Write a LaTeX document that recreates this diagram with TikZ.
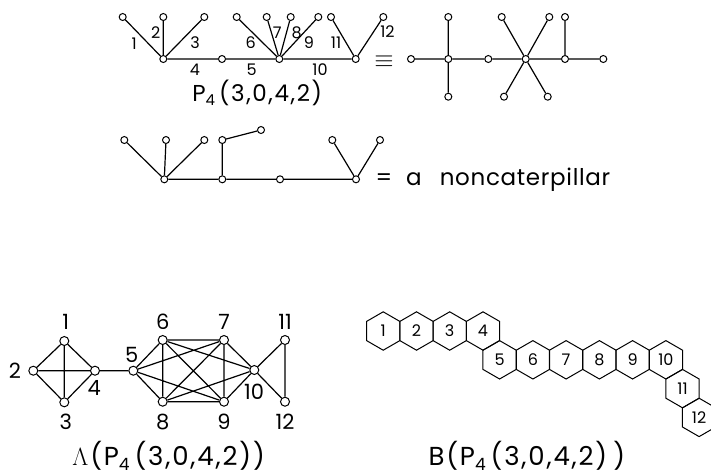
\documentclass[tikz,border=0pt]{standalone}
\usepackage{fontspec}
\setmainfont{Poppins}
\newfontfamily\widefont[LetterSpace=7]{Poppins}
\newfontfamily\midfont[LetterSpace=3]{Poppins}
\usetikzlibrary{shapes.geometric}
\newcommand{\fsz}[1]{\fontsize{#1}{#1}\selectfont}
\newcommand{\Pfour}[2]{P\raisebox{-#2}{\fsz{#1}4}}
\begin{document}
\begin{tikzpicture}[x=1pt,y=-1pt,line width=1.2pt,
  vtx/.style={circle,draw,fill=white,inner sep=0pt,minimum size=7pt,line width=1pt},
  lvtx/.style={vtx,minimum size=9pt},
  elab/.style={inner sep=0pt,font=\fsz{16}},
  llab/.style={inner sep=0pt,font=\fsz{21}},
  hexa/.style={regular polygon,regular polygon sides=6,shape border rotate=30,
    draw,inner sep=0pt,minimum size=38.4pt,line width=1pt,font=\fsz{16}},
  ttl/.style={inner sep=0pt,anchor=base west}]
\useasboundingbox (0,0) rectangle (711,475);

% ---------- tree P4(3,0,4,2) with numbered edges ----------
\node[vtx] (a) at (163.3,59) {};
\node[vtx] (a1) at (122.7,17) {};
\node[vtx] (a2) at (163.3,17) {};
\node[vtx] (a3) at (204.3,17) {};
\node[vtx] (b) at (222,59) {};
\node[vtx] (c) at (279.3,59) {};
\node[vtx] (c6) at (236.7,17) {};
\node[vtx] (c7) at (266.7,17) {};
\node[vtx] (c8) at (290.7,17) {};
\node[vtx] (c9) at (318.3,17) {};
\node[vtx] (d) at (355.7,59) {};
\node[vtx] (d11) at (331,17) {};
\node[vtx] (d12) at (383.3,17) {};
\draw (a) -- (a1) (a) -- (a2) (a) -- (a3) (a) -- (b) -- (c)
      (c) -- (c6) (c) -- (c7) (c) -- (c8) (c) -- (c9) (c) -- (d)
      (d) -- (d11) (d) -- (d12);
\node[elab] (e1) at (134.3,44) {1};
\node[elab] (e2) at (155.7,33) {2};
\node[elab] (e3) at (195,43) {3};
\node[elab] (e4) at (195,70) {4};
\node[elab] (e5) at (251.7,70) {5};
\node[elab] (e6) at (250.7,43) {6};
\node[elab] (e7) at (277.3,33) {7};
\node[elab] (e8) at (296.7,33) {8};
\node[elab] (e9) at (309,43) {9};
\node[elab] (e10) at (320,70) {10};
\node[elab] (e11) at (336,43) {11};
\node[elab] (e12) at (387.5,31.5) {12};
\node[ttl,font=\widefont\fsz{23}] (t1) at (191.7,101.7) {\Pfour{15}{4pt}\kern4pt(3,0,4,2)};
% equivalence sign, boxed tightly round the glyph
\node[inner sep=0pt,anchor=base,text height=11pt,text depth=0pt] (eqv) at (384,67.5) {\fsz{24}$\equiv$};

% ---------- the same tree drawn as a caterpillar ----------
\node[vtx] (r0) at (411,59) {};
\node[vtx] (r1) at (448.3,59) {};
\node[vtx] (r1u) at (448.3,17) {};
\node[vtx] (r1d) at (448.3,96.7) {};
\node[vtx] (r2) at (488.3,59) {};
\node[vtx] (r3) at (525.7,59) {};
\node[vtx] (r3a) at (501.7,17) {};
\node[vtx] (r3b) at (549.3,17) {};
\node[vtx] (r3c) at (504,96.7) {};
\node[vtx] (r3d) at (547.7,96.7) {};
\node[vtx] (r4) at (565,59) {};
\node[vtx] (r4u) at (565,17) {};
\node[vtx] (r5) at (603.3,59) {};
\draw (r0) -- (r1) -- (r2) -- (r3) -- (r4) -- (r5)
      (r1) -- (r1u) (r1) -- (r1d)
      (r3) -- (r3a) (r3) -- (r3b) (r3) -- (r3c) (r3) -- (r3d)
      (r4) -- (r4u);

% ---------- a noncaterpillar ----------
\node[vtx] (n1) at (164.3,179.3) {};
\node[vtx] (n1a) at (124.3,140) {};
\node[vtx] (n1b) at (166,140) {};
\node[vtx] (n1c) at (204.3,140) {};
\node[vtx] (n2) at (222.3,179.3) {};
\node[vtx] (n2u) at (222.3,140) {};
\node[vtx] (n2x) at (261,130) {};
\node[vtx] (n3) at (280,179.3) {};
\node[vtx] (n4) at (356,179.3) {};
\node[vtx] (n4a) at (332.3,140) {};
\node[vtx] (n4b) at (380,140) {};
\draw (n1) -- (n1a) (n1) -- (n1b) (n1) -- (n1c)
      (n1) -- (n2) -- (n3) -- (n4)
      (n2) -- (n2u) -- (n2x)
      (n4) -- (n4a) (n4) -- (n4b);
\node[ttl,font=\midfont\fsz{23}] (nc) at (375,185) {=\kern14pt a\kern18pt noncaterpillar};

% ---------- line graph ----------
\node[lvtx] (L1) at (64.3,341) {};
\node[lvtx] (L2) at (33.3,370.7) {};
\node[lvtx] (L3) at (64.3,402.3) {};
\node[lvtx] (L4) at (95,370.7) {};
\node[lvtx] (L5) at (133.3,370.7) {};
\node[lvtx] (L6) at (162.7,340) {};
\node[lvtx] (L7) at (224,340) {};
\node[lvtx] (L8) at (162.7,401.7) {};
\node[lvtx] (L9) at (224,401.7) {};
\node[lvtx] (L10) at (254.3,370) {};
\node[lvtx] (L11) at (285,340) {};
\node[lvtx] (L12) at (285,401.7) {};
\draw (L1) -- (L2) (L1) -- (L3) (L1) -- (L4) (L2) -- (L3) (L2) -- (L4) (L3) -- (L4)
      (L4) -- (L5)
      (L5) -- (L6) (L5) -- (L7) (L5) -- (L8) (L5) -- (L9)
      (L6) -- (L7) (L6) -- (L8) (L6) -- (L9) (L6) -- (L10)
      (L7) -- (L8) (L7) -- (L9) (L7) -- (L10)
      (L8) -- (L9) (L8) -- (L10) (L9) -- (L10)
      (L10) -- (L11) (L10) -- (L12) (L11) -- (L12);
\node[llab] (l1) at (65.7,321.7) {1};
\node[llab] (l2) at (15,370.6) {2};
\node[llab] (l3) at (65.7,421.7) {3};
\node[llab] (l4) at (94.3,388.3) {4};
\node[llab] (l5) at (131.7,355) {5};
\node[llab] (l6) at (162.7,321.7) {6};
\node[llab] (l7) at (224,321.7) {7};
\node[llab] (l8) at (162.7,421.7) {8};
\node[llab] (l9) at (224,421.7) {9};
\node[llab] (l10) at (254,391.7) {10};
\node[llab] (l11) at (285,321.7) {11};
\node[llab] (l12) at (285,421.7) {12};
\node[ttl,font=\widefont\fsz{26}] (t2) at (71.7,465)
  {{\fsz{29}$\Lambda$}\kern2pt(\Pfour{17}{5pt}\kern5pt(3,0,4,2))};

% ---------- benzenoid chain ----------
\node[hexa] (h1) at (383.2,331) {1};
\node[hexa] (h2) at (416.5,331) {2};
\node[hexa] (h3) at (449.7,331) {3};
\node[hexa] (h4) at (483,331) {4};
\node[hexa] (h5) at (499.6,359.8) {5};
\node[hexa] (h6) at (532.9,359.8) {6};
\node[hexa] (h7) at (566.1,359.8) {7};
\node[hexa] (h8) at (599.4,359.8) {8};
\node[hexa] (h9) at (632.6,359.8) {9};
\node[hexa] (h10) at (665.9,359.8) {10};
\node[hexa] (h11) at (682.5,388.6) {11};
\node[hexa] (h12) at (699.1,417.4) {12};
\node[ttl,font=\widefont\fsz{26}] (t3) at (428,465)
  {B(\Pfour{17}{5pt}\kern5pt(3,0,4,2)\kern6pt)};
\end{tikzpicture}
\end{document}
